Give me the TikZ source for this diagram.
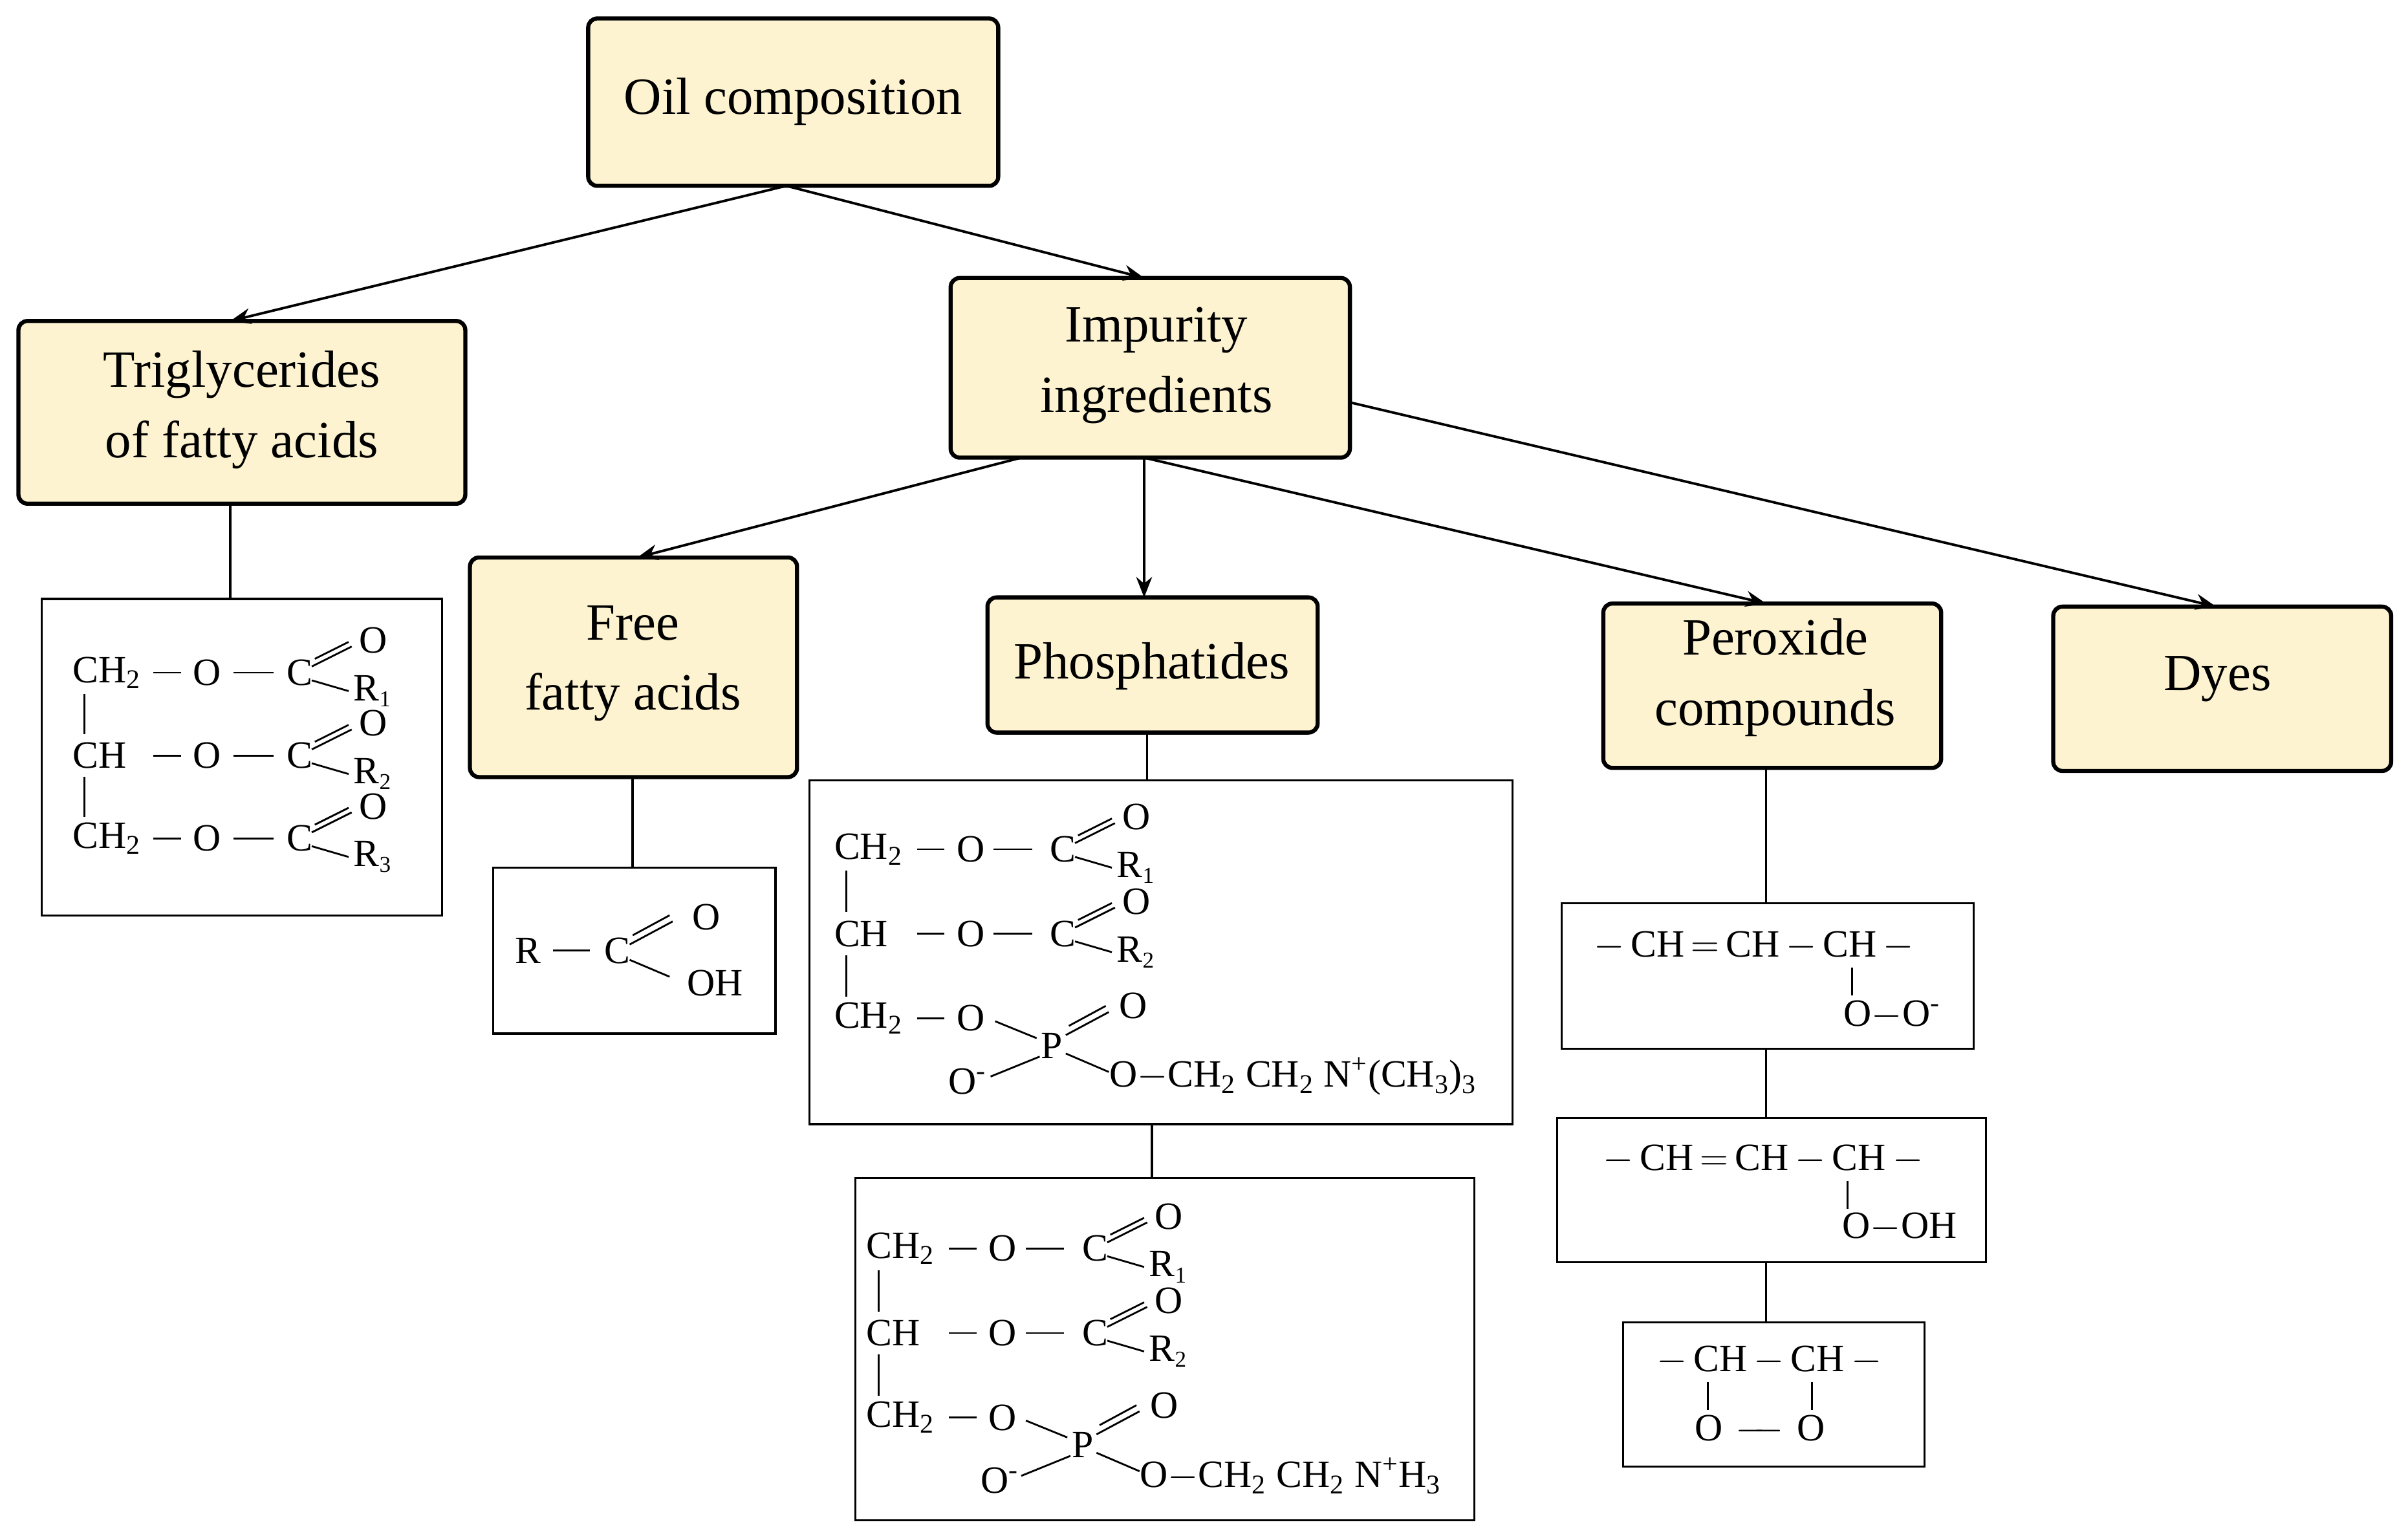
\documentclass[tikz,border=0pt]{standalone}
\usepackage{fontspec}
\setmainfont{Liberation Serif}
\usetikzlibrary{arrows.meta}
\definecolor{boxfill}{HTML}{FDF3D0}
\tikzset{
  cat/.style={draw=black,line width=1.8pt,rounded corners=4pt,fill=boxfill},
  lab/.style={align=center,inner sep=0pt,font=\fontsize{23}{31}\selectfont},
  cbox/.style={draw=black,line width=0.9pt},
  arr/.style={line width=1.1pt,-{Stealth[length=9pt,width=7pt]}},
  lnk/.style={line width=1pt},
  chem/.style={inner sep=0pt,font=\fontsize{17}{20}\selectfont},
  bond/.style={line width=0.8pt}
}
\newcommand\ester[3]{%
  \node[chem] at (#1,#2) {C};
  \draw[bond] (#1+8,#2-4) -- (#1+34,#2-17);
  \draw[bond] (#1+10,#2-9) -- (#1+32,#2-20);
  \node[chem] at (#1+48,#2-21) {O};
  \draw[bond] (#1+8,#2+5) -- (#1+32,#2+12);
  \node[chem,anchor=west] at (#1+35,#2+12) {R\textsubscript{\fontsize{10}{11}\selectfont#3}};
}
\newcommand\glyc[3]{% #1 x left, #2 y first row, #3 row spacing
  \node[chem,anchor=west] at (#1,#2) {CH\textsubscript{2}};
  \node[chem,anchor=west] at (#1,#2+#3) {CH};
  \node[chem,anchor=west] at (#1,#2+2*#3) {CH\textsubscript{2}};
  \draw[bond] (#1+8,#2+14) -- (#1+8,#2+#3-14);
  \draw[bond] (#1+8,#2+#3+14) -- (#1+8,#2+2*#3-14);
}
\begin{document}
\begin{tikzpicture}[x=0.02374cm,y=-0.02374cm]
\useasboundingbox (0,0) rectangle (1568,1002.5);
% category boxes
\path[cat] (383,12) rectangle (650,121);
\node[lab] (oil) at (516.5,66) {Oil composition};
\path[cat] (12,209) rectangle (303,328);
\node[lab] (tri) at (157.5,267) {Triglycerides\\of fatty acids};
\path[cat] (619,181) rectangle (879,298);
\node[lab] (imp) at (753,238) {Impurity\\ingredients};
\path[cat] (306,363) rectangle (519,506);
\node[lab] (ffa) at (412,432) {Free\\fatty acids};
\path[cat] (643,389) rectangle (858,477);
\node[lab] (pho) at (750,434) {Phosphatides};
\path[cat] (1044,393) rectangle (1264,500);
\node[lab] (per) at (1156,441) {Peroxide\\compounds};
\path[cat] (1337,395) rectangle (1557,502);
\node[lab] (dye) at (1444,442) {Dyes};
% coordinates
\coordinate (oilb) at (512,121);
\coordinate (trit) at (150,209);
\coordinate (impt) at (745,181);
\coordinate (impb1) at (665,298);
\coordinate (impb2) at (745,298);
\coordinate (impr) at (879,262);
\coordinate (ffat) at (415,363);
\coordinate (phot) at (745,389);
\coordinate (pert) at (1150,393);
\coordinate (dyet) at (1443,395);
\draw[arr] (oilb) -- (trit);
\draw[arr] (oilb) -- (impt);
\draw[arr] (impb1) -- (ffat);
\draw[arr] (impb2) -- (phot);
\draw[arr] (impb2) -- (pert);
\draw[arr] (impr) -- (dyet);
% formula boxes
\coordinate (trib) at (150,328); \coordinate (tric) at (150,390);
\draw[lnk] (trib) -- (tric);
\draw[cbox] (27,390) rectangle (288,596);
\coordinate (ffab) at (412,506); \coordinate (ffac) at (412,565);
\draw[lnk] (ffab) -- (ffac);
\draw[cbox] (321,565) rectangle (505,673);
\coordinate (phob) at (747,477); \coordinate (phoc) at (747,508);
\draw[lnk] (phob) -- (phoc);
\draw[cbox] (527,508) rectangle (985,732);
\coordinate (p1b) at (750,732); \coordinate (p2t) at (750,767);
\draw[lnk] (p1b) -- (p2t);
\draw[cbox] (557,767) rectangle (960,990);
\coordinate (perb) at (1150,500); \coordinate (x1t) at (1150,588);
\draw[lnk] (perb) -- (x1t);
\draw[cbox] (1017,588) rectangle (1285,683);
\coordinate (x1b) at (1150,683); \coordinate (x2t) at (1150,728);
\draw[lnk] (x1b) -- (x2t);
\draw[cbox] (1014,728) rectangle (1293,822);
\coordinate (x2b) at (1150,822); \coordinate (x3t) at (1150,861);
\draw[lnk] (x2b) -- (x3t);
\draw[cbox] (1057,861) rectangle (1253,955);
% triglyceride formula
\glyc{47}{438}{54}
\foreach \y/\s in {438/1,492/2,546/3}{
  \draw[bond] (100,\y) -- (118,\y);
  \node[chem] at (135,\y) {O};
  \draw[bond] (152,\y) -- (178,\y);
  \ester{195}{\y}{\s}
}
% free fatty acid
\node[chem] at (344,619) {R};
\draw[bond] (360,619) -- (384,619);
\node[chem] at (402,619) {C};
\draw[bond] (410,615) -- (438,600);
\draw[bond] (412,609) -- (436,596);
\node[chem] at (460,597) {O};
\draw[bond] (410,625) -- (436,636);
\node[chem,anchor=west] at (447,640) {OH};
% phosphatide 1
\glyc{543}{553}{55}
\foreach \y/\s in {553/1,608/2}{
  \draw[bond] (597,\y) -- (615,\y);
  \node[chem] at (632,\y) {O};
  \draw[bond] (647,\y) -- (672,\y);
  \ester{692}{\y}{\s}
}
\draw[bond] (597,663) -- (615,663);
\node[chem] at (632,663) {O};
\draw[bond] (648,665) -- (675,676);
\node[chem] at (685,681) {P};
\draw[bond] (694,674) -- (722,659);
\draw[bond] (696,668) -- (720,655);
\node[chem] at (738,655) {O};
\draw[bond] (677,688) -- (645,701);
\node[chem] at (630,704) {O\textsuperscript{-}};
\draw[bond] (694,686) -- (722,698);
\node[chem,anchor=west] at (722,701) {O$-$CH\textsubscript{2} CH\textsubscript{2} N\textsuperscript{+}(CH\textsubscript{3})\textsubscript{3}};
% phosphatide 2
\glyc{564}{813}{55}
\foreach \y/\s in {813/1,868/2}{
  \draw[bond] (618,\y) -- (636,\y);
  \node[chem] at (653,\y) {O};
  \draw[bond] (668,\y) -- (693,\y);
  \ester{713}{\y}{\s}
}
\draw[bond] (618,923) -- (636,923);
\node[chem] at (653,923) {O};
\draw[bond] (668,925) -- (695,936);
\node[chem] at (705,941) {P};
\draw[bond] (714,934) -- (742,919);
\draw[bond] (716,928) -- (740,915);
\node[chem] at (758,915) {O};
\draw[bond] (697,948) -- (665,961);
\node[chem] at (651,964) {O\textsuperscript{-}};
\draw[bond] (714,946) -- (742,958);
\node[chem,anchor=west] at (742,961) {O$-$CH\textsubscript{2} CH\textsubscript{2} N\textsuperscript{+}H\textsubscript{3}};
% peroxides
\node[chem] at (1142,616) {$-$\,CH$\,=\,$CH$\,-\,$CH$\,-$};
\draw[bond] (1206,630) -- (1206,648);
\node[chem] at (1232,661) {O$-$O\textsuperscript{-}};
\node[chem] at (1148,755) {$-$\,CH$\,=\,$CH$\,-\,$CH$\,-$};
\draw[bond] (1203,769) -- (1203,787);
\node[chem] at (1237,799) {O$-$OH};
\node[chem] at (1152,886) {$-$\,CH$\,-\,$CH$\,-$};
\draw[bond] (1112,900) -- (1112,918);
\draw[bond] (1180,900) -- (1180,918);
\node[chem] at (1146,931) {O\,$\,-\!\!-\,$\,O};
\end{tikzpicture}
\end{document}
